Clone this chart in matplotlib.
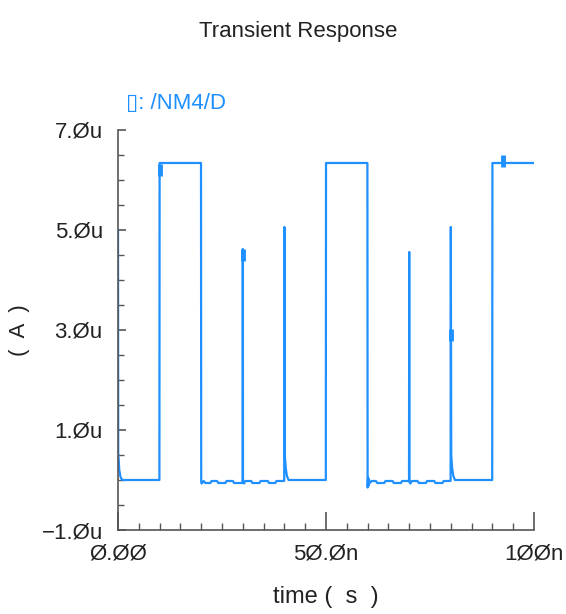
import matplotlib
matplotlib.use("Agg")
import matplotlib.pyplot as plt
from matplotlib.ticker import MultipleLocator, FixedLocator, FixedFormatter

plt.rcParams['font.family'] = ['Liberation Sans', 'DejaVu Sans']

# waveform of /NM4/D, time in ns, current in uA
t_ns = [0.0, 0.05, 0.3, 0.6, 1.0, 9.95, 10.0, 10.05, 19.95, 20.0,
        20.1, 20.6, 21.0, 22.2, 22.5, 23.8, 24.1, 25.8, 26.1, 27.6, 27.9, 29.9,
        29.95, 30.0, 30.05, 30.3, 30.6, 32.0, 32.3, 34.0, 34.3, 36.0, 36.3, 37.8,
        38.1, 39.9, 39.95, 40.0, 40.1, 40.3, 40.6, 41.0, 49.95, 50.0, 50.05,
        59.95, 60.0, 60.1, 60.2, 60.3, 60.5, 61.0, 62.0, 62.3, 64.0, 64.3, 66.0,
        66.3, 68.0, 68.3, 69.9, 69.95, 70.0, 70.05, 70.3, 70.6, 72.0, 72.3,
        74.0, 74.3, 76.0, 76.3, 78.0, 78.3, 79.9, 79.95, 80.0, 80.1, 80.3,
        80.6, 81.0, 89.95, 90.0, 90.05, 100.0]
i_ua = [5.0, 0.55, 0.2, 0.06, 0.0, 0.0, 6.34, 6.34, 6.34, -0.04,
        -0.07, -0.02, -0.06, -0.06, -0.02, -0.02, -0.06, -0.06, -0.02, -0.02, -0.06, -0.06,
        0.0, 4.62, -0.04, -0.07, -0.02, -0.02, -0.06, -0.06, -0.02, -0.02, -0.06, -0.06,
        -0.02, -0.02, 0.0, 5.06, 0.5, 0.25, 0.08, 0.0, 0.0, 6.34, 6.34,
        6.34, -0.15, 0.05, -0.12, 0.02, -0.06, -0.02, -0.02, -0.06, -0.06, -0.02, -0.02,
        -0.06, -0.06, -0.02, -0.02, 0.0, 4.56, -0.04, -0.07, -0.02, -0.02, -0.06,
        -0.06, -0.02, -0.02, -0.06, -0.06, -0.02, -0.02, 0.0, 5.06, 0.5, 0.25,
        0.08, 0.0, 0.0, 6.34, 6.34, 6.34]

# small markers on the trace
mark_t = [10.0, 30.0, 80.0, 92.5]
mark_i = [6.2, 4.5, 2.9, 6.38]

y_ticks = [-1, 1, 3, 5, 7]
y_labels = ['\u22121.\u00d8u', '1.\u00d8u', '3.\u00d8u', '5.\u00d8u', '7.\u00d8u']
x_ticks = [0, 50, 100]
x_labels = ['\u00d8.\u00d8\u00d8', '5\u00d8.\u00d8n', '1\u00d8\u00d8n']

blue = '#1e90ff'
ink = '#222222'

fig = plt.figure(figsize=(5.66, 6.14), dpi=100)
ax = fig.add_axes([0.2085, 0.1368, 0.735, 0.6515])
ax.plot(t_ns, i_ua, color=blue, lw=1.6)
ax.plot(mark_t, mark_i, ls='none', marker='|', ms=8, mew=3.5, color=blue)

ax.set_xlim(0, 100)
ax.set_ylim(-1, 7)
for s in ['top', 'right']:
    ax.spines[s].set_visible(False)
for s in ['left', 'bottom']:
    ax.spines[s].set_color('#555555')
    ax.spines[s].set_linewidth(1.2)

ax.yaxis.set_major_locator(FixedLocator(y_ticks))
ax.yaxis.set_major_formatter(FixedFormatter(y_labels))
ax.yaxis.set_minor_locator(MultipleLocator(0.5))
ax.xaxis.set_major_locator(FixedLocator(x_ticks))
ax.xaxis.set_major_formatter(FixedFormatter(x_labels))
ax.xaxis.set_minor_locator(MultipleLocator(5))

ax.tick_params(axis='both', which='both', direction='in', colors='#555555',
               labelcolor=ink, labelsize=16)
ax.tick_params(axis='x', which='major', length=13, width=1.2, pad=10)
ax.tick_params(axis='x', which='minor', length=5, width=1)
ax.tick_params(axis='y', which='major', length=6, width=1.2, pad=11)
ax.tick_params(axis='y', which='minor', length=4, width=1)

ax.set_xlabel('time (  s  )', fontsize=17, color=ink, labelpad=15)
ax.yaxis.set_label_coords(-0.212, 0.44)
ax.set_ylabel('(  A  )', fontsize=16, color=ink)

fig.text(0.527, 0.948, 'Transient Response', ha='center', va='center',
         fontsize=16, color=ink)
fig.text(0.222, 0.831, '\u25af: /NM4/D', ha='left', va='center',
         fontsize=16, color=blue)

fig.savefig('out.png', dpi=100)
